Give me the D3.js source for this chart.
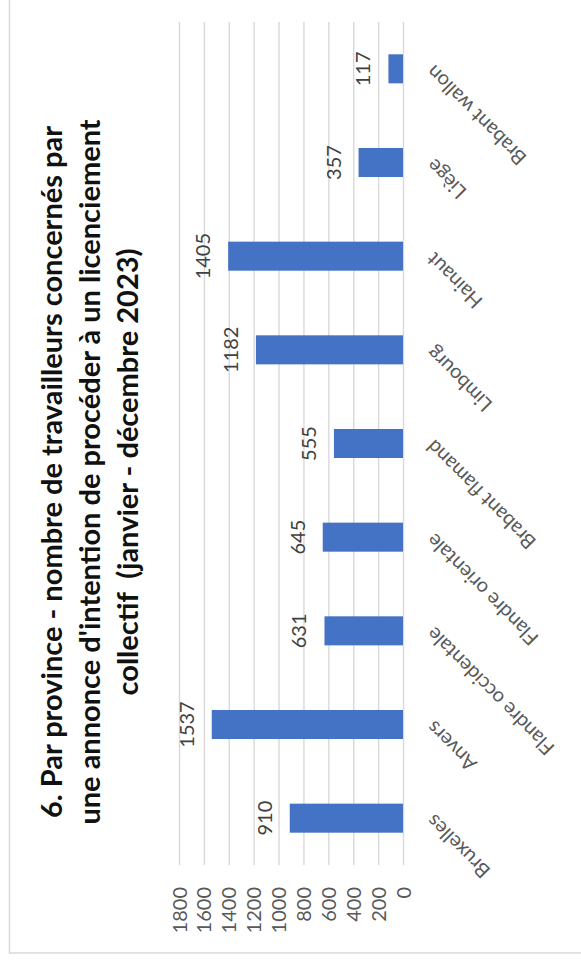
<!DOCTYPE html>
<html>
<head>
<meta charset="utf-8">
<script src="https://cdn.jsdelivr.net/npm/d3@7"></script>
<style>
  html, body { margin: 0; padding: 0; background: #fff; }
  svg { display: block; }
  .title text { white-space: pre; }
</style>
</head>
<body>
<svg id="chart" width="581" height="965"></svg>
<script>
// Provinces and number of workers affected (Jan - Dec 2023)
const provinces = ["Bruxelles", "Anvers", "Flandre occidentale", "Flandre orientale",
  "Brabant flamand", "Limbourg", "Hainaut", "Liège", "Brabant wallon"];
const workers = [910, 1537, 631, 645, 555, 1182, 1405, 357, 117];
const valueTicks = [0, 200, 400, 600, 800, 1000, 1200, 1400, 1600, 1800];
const titleLines = [
  "6. Par province - nombre de travailleurs concernés par",
  "une annonce d'intention de procéder à un licenciement",
  "collectif  (janvier - décembre 2023)"
];

const svg = d3.select("#chart");
const font = "Lato, 'Open Sans', sans-serif";

// Chart frame
svg.append("rect")
  .attr("x", 9.5).attr("y", -10)
  .attr("width", 620).attr("height", 963)
  .attr("fill", "#fff").attr("stroke", "#d9d9d9").attr("stroke-width", 1.5);

// The chart is laid out sideways: value axis runs right-to-left, categories bottom-to-top
const plotTop = 22, plotBottom = 865;
const x = d3.scaleLinear().domain([0, 1800]).range([403, 179]);
const y = d3.scaleBand().domain(provinces).range([plotBottom, plotTop])
  .paddingInner(0.69).paddingOuter(0.345);

// Gridlines
svg.append("g")
  .attr("transform", `translate(0,${plotBottom})`)
  .call(d3.axisBottom(x).tickValues(valueTicks).tickSize(-(plotBottom - plotTop)).tickFormat(""))
  .call(g => g.select(".domain").remove())
  .call(g => g.selectAll(".tick line").attr("stroke", "#d9d9d9").attr("stroke-width", 1.4));

// Value tick labels
svg.append("g")
  .attr("transform", "translate(0,887)")
  .call(d3.axisBottom(x).tickValues(valueTicks).tickSize(0).tickFormat(d3.format("d")))
  .call(g => g.select(".domain").remove())
  .call(g => g.selectAll(".tick text")
    .attr("x", 0).attr("y", 0).attr("dy", "0.35em")
    .attr("transform", "rotate(-90)")
    .attr("text-anchor", "end")
    .attr("fill", "#595959")
    .style("font-family", font).style("font-size", "20px"));

// Bars
const data = provinces.map((p, i) => ({ p, v: workers[i] }));
svg.append("g").selectAll("rect")
  .data(data).join("rect")
  .attr("x", d => x(d.v))
  .attr("y", d => y(d.p))
  .attr("width", d => x(0) - x(d.v))
  .attr("height", y.bandwidth())
  .attr("fill", "#4472c4");

// Value labels
svg.append("g").selectAll("text")
  .data(data).join("text")
  .attr("transform", d => `translate(${x(d.v) - 18},${y(d.p) + y.bandwidth() / 2}) rotate(-90)`)
  .attr("text-anchor", "middle")
  .attr("fill", "#404040")
  .style("font-family", font).style("font-size", "20px")
  .text(d => d.v);

// Category labels
svg.append("g").selectAll("text")
  .data(provinces).join("text")
  .attr("transform", d => `translate(430,${y(d) + y.bandwidth() / 2}) rotate(-135)`)
  .attr("text-anchor", "end")
  .attr("dy", "0.35em")
  .attr("fill", "#595959")
  .style("font-family", font).style("font-size", "20px")
  .text(d => d);

// Title
const titleBaselines = [62, 100, 138];
svg.append("g").attr("class", "title").selectAll("text")
  .data(titleLines).join("text")
  .attr("transform", (d, i) => `translate(${titleBaselines[i]},472) rotate(-90)`)
  .attr("text-anchor", "middle")
  .attr("fill", "#111")
  .style("font-family", font).style("font-weight", "bold").style("font-size", "29px")
  .text(d => d);
</script>
</body>
</html>
